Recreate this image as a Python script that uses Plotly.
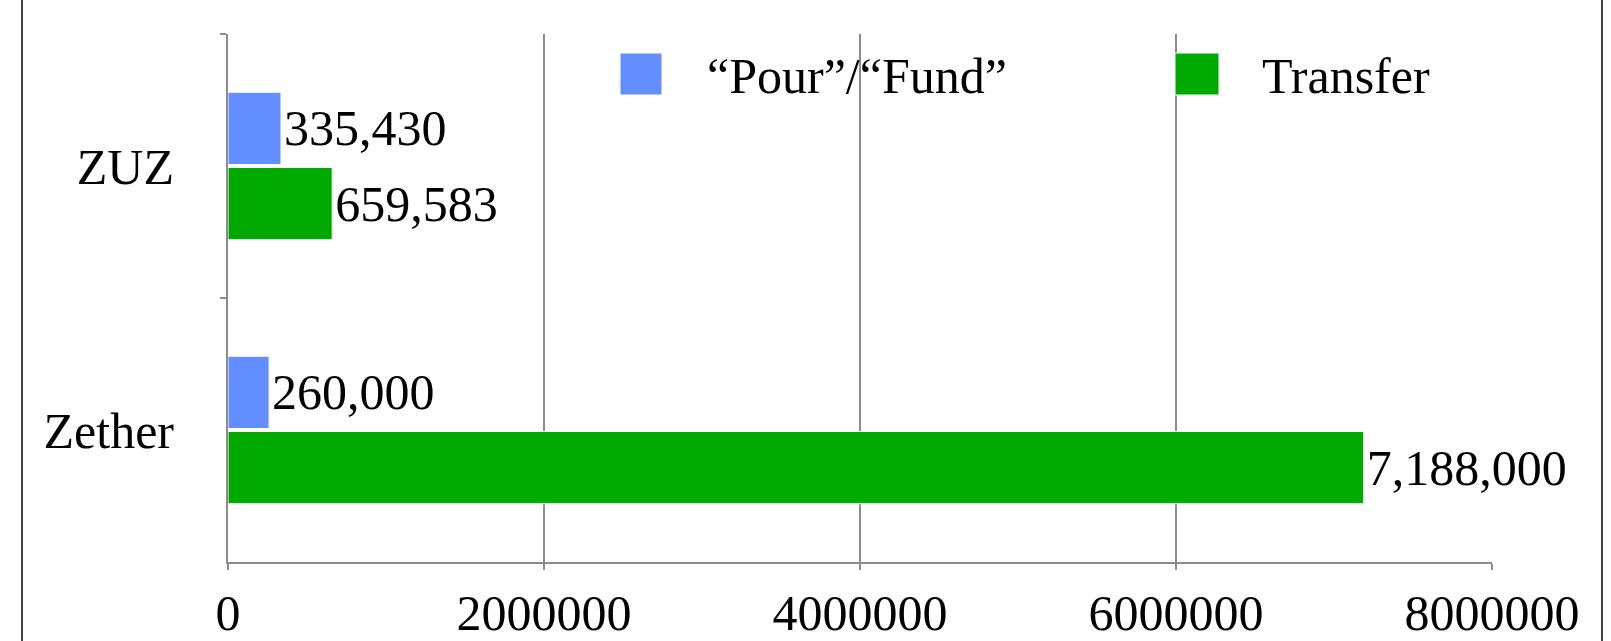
import plotly.graph_objects as go

categories = ["ZUZ", "Zether"]
series_names = ["\u201cPour\u201d/\u201cFund\u201d", "Transfer"]
pour_fund = [335430, 260000]
transfer = [659583, 7188000]
x_ticks = [0, 2000000, 4000000, 6000000, 8000000]
x_tick_labels = ["0", "2000000", "4000000", "6000000", "8000000"]

colors = ["#638EFF", "#00AA00"]
FONT = "Liberation Serif"
W, H = 1611, 641
L, R, T, B = 228, 119, 34, 79
pw, ph = W - L - R, H - T - B

fig = go.Figure()
for name, vals, col in zip(series_names, [pour_fund, transfer], colors):
    fig.add_trace(go.Bar(
        y=categories, x=vals, name=name, orientation="h",
        marker=dict(color=col, line=dict(color="white", width=1)),
        text=[f"{v:,}" for v in vals], textposition="outside",
        textfont=dict(family=FONT, size=50, color="black"),
        cliponaxis=False, constraintext="none", showlegend=False,
    ))

def px_x(p):
    return (p - L) / pw

def px_y(p):
    return (H - B - p) / ph

shapes = []
annotations = []
# custom legend (large swatches like the original)
legend_items = [(620, 662, 705), (1175, 1219, 1260)]
for (sx0, sx1, tx), name, col in zip(legend_items, series_names, colors):
    shapes.append(dict(type="rect", xref="paper", yref="paper",
                       x0=px_x(sx0), x1=px_x(sx1), y0=px_y(95), y1=px_y(53),
                       fillcolor=col, line=dict(color="white", width=1)))
    annotations.append(dict(text=name, xref="paper", yref="paper",
                            x=px_x(tx), y=px_y(76), xanchor="left", yanchor="middle",
                            showarrow=False, font=dict(family=FONT, size=50, color="black")))
# outer frame lines
for fx in (22, 1602):
    shapes.append(dict(type="line", xref="paper", yref="paper",
                       x0=px_x(fx), x1=px_x(fx), y0=-1, y1=2,
                       line=dict(color="black", width=1.5)))

fig.update_layout(
    width=W, height=H,
    margin=dict(l=L, r=R, t=T, b=B),
    paper_bgcolor="white", plot_bgcolor="white",
    barmode="group", bargap=0.43, bargroupgap=0.04,
    font=dict(family=FONT, size=50, color="black"),
    shapes=shapes, annotations=annotations,
    showlegend=False,
)
fig.update_xaxes(
    range=[0, 8000000], tickvals=x_ticks, ticktext=x_tick_labels,
    showgrid=True, gridcolor="#8c8c8c", gridwidth=2,
    zeroline=False, showline=True, linecolor="#8c8c8c", linewidth=2,
    ticks="outside", ticklen=6, tickcolor="#8c8c8c", tickwidth=2,
    tickfont=dict(family=FONT, size=50, color="black"),
    ticklabelstandoff=0, automargin=False,
)
fig.update_yaxes(
    autorange="reversed", showgrid=False,
    showline=True, linecolor="#8c8c8c", linewidth=2,
    ticks="outside", tickson="boundaries", ticklen=6, tickcolor="#8c8c8c", tickwidth=2,
    tickfont=dict(family=FONT, size=50, color="black"),
    ticklabelstandoff=42, automargin=False,
)

fig.write_html("out.html")
